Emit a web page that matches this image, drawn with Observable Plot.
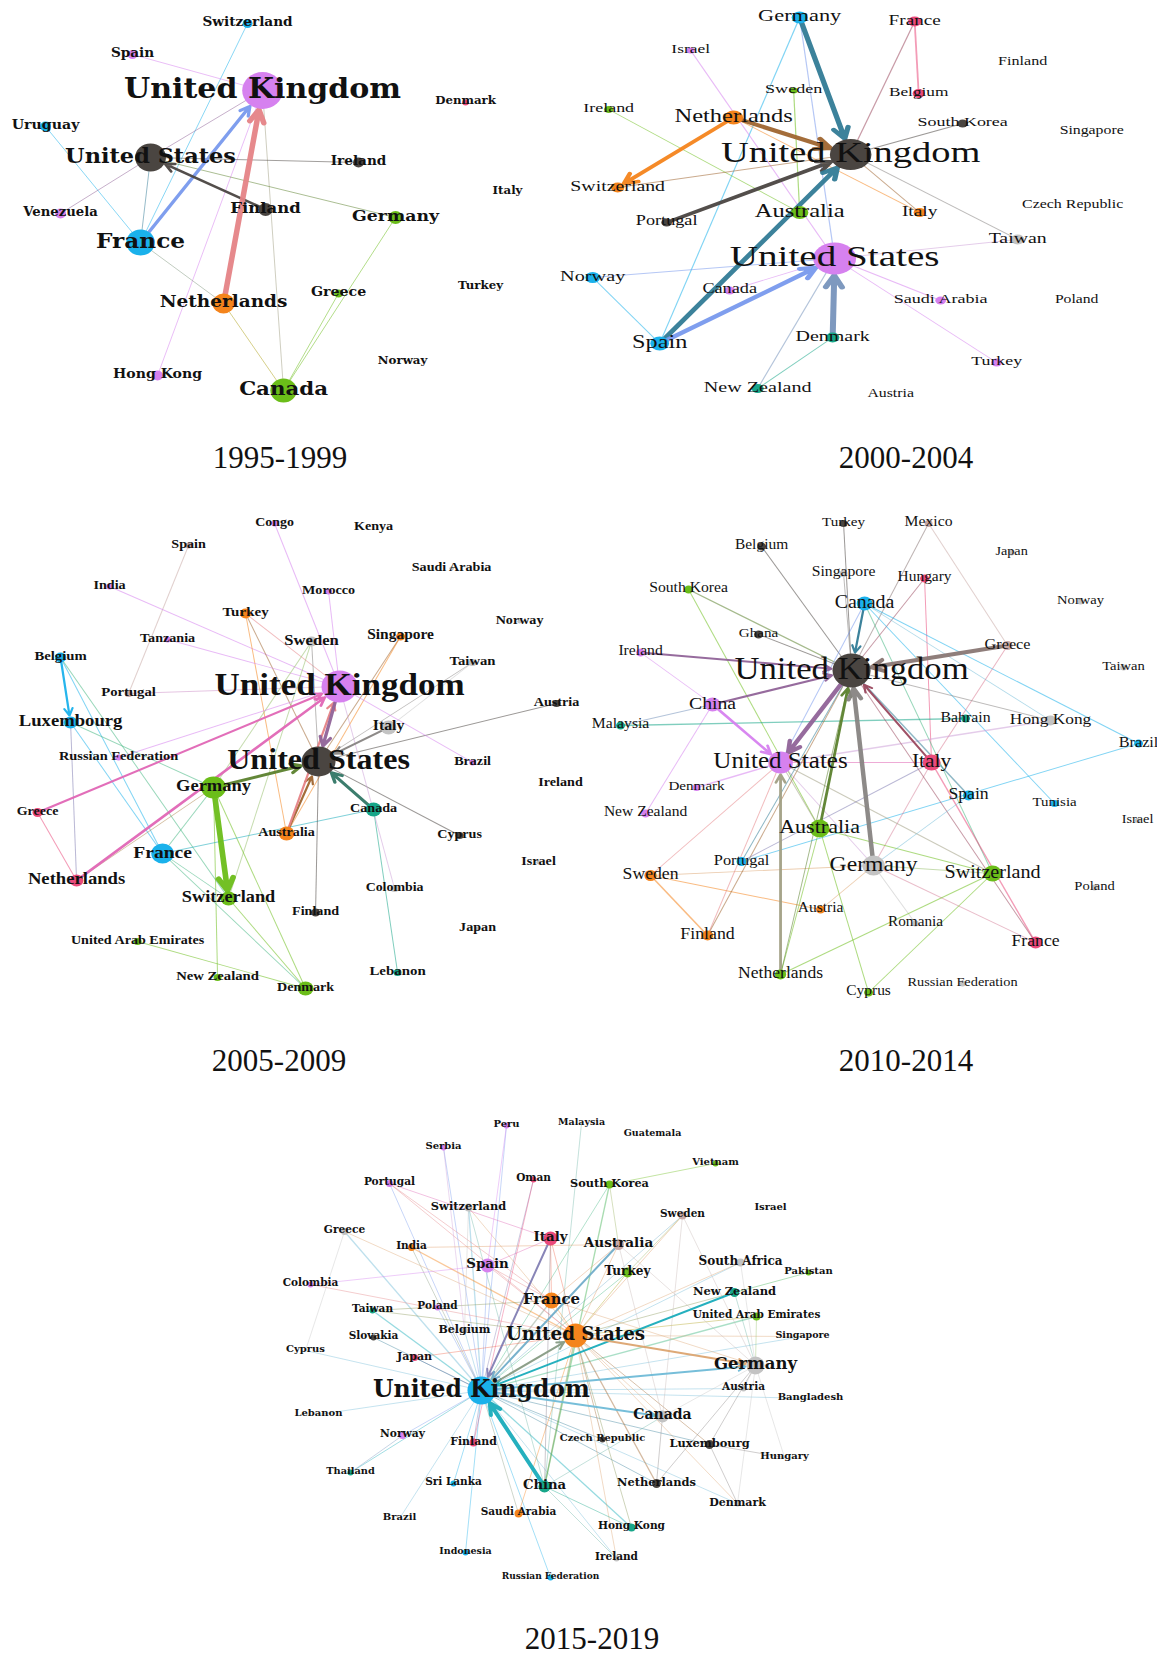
<!DOCTYPE html>
<html><head><meta charset="utf-8">
<script src="https://cdn.jsdelivr.net/npm/d3@7"></script>
<script src="https://cdn.jsdelivr.net/npm/@observablehq/plot@0.6"></script>
<style>
body{margin:0;background:#fff;}
#page{position:relative;width:1157px;height:1658px;overflow:hidden;background:#fff;}
.panel{position:absolute;transform-origin:0 0;}
.panel svg{overflow:visible;display:block;}
.cap{position:absolute;width:300px;margin-left:-150px;text-align:center;font-family:"Liberation Serif","Times New Roman",serif;font-size:31px;line-height:26px;color:#111;}
</style></head><body><div id="page"></div>
<script>
// community colours (index = community id)
const palette = ["#d681ef","#4a4541","#1ab1eb","#6bbd19","#f4841c","#ea4a7b","#17a689","#c3c3c3","#c8a9a6"];

// nodes: [country, layoutX, layoutY, nodeWeight, labelWeight, community]
const nodes1995 = [
["United Kingdom",262,90,18.5,27.3,0],["Switzerland",247,23,4.5,12.4,2],["Spain",132,54,4.5,12.4,0],
["Denmark",465,102,3,10.7,5],["Uruguay",45,126,5,12.9,2],["United States",150,157,14,20.4,1],
["Ireland",358,162,5,12.4,1],["Italy",507,192,0,10.7,7],["Venezuela",60,213,5,12,0],
["Finland",265,209,6.5,15,1],["Germany",395,217,6.5,15.7,3],["France",140,242,13,21.1,2],
["Turkey",480,287,0,10.7,7],["Greece",338,293,4,12.9,3],["Netherlands",223,303,10,16.8,4],
["Norway",402,362,0,10.7,7],["Hong Kong",157,375,5,12.8,0],["Canada",283,390,12,19.4,3]];
const edges1995 = [
["Switzerland","France",1],["Spain","United Kingdom",1],["Uruguay","France",1],["United States","United Kingdom",1],
["Venezuela","United States",1],["France","United Kingdom",3],["France","United States",1],["Finland","United States",2.5],
["Netherlands","United Kingdom",5],["Hong Kong","United Kingdom",1],["Canada","United Kingdom",1],["Ireland","United States",1],
["Germany","United States",1],["Germany","Canada",1],["Greece","Canada",1],["France","Netherlands",1],["Netherlands","Canada",1]];

const nodes2000 = [
["Germany",799,17,6,16.7,2],["France",914,21,5,14.3,5],["Israel",690,50,3,13,0],["Finland",1022,62,0,12,7],
["Sweden",793,90,3,13.5,3],["Belgium",918,93,4.5,12.9,5],["Ireland",608,109,3.5,13.4,3],["Netherlands",733,117,7,18.3,4],
["South Korea",962,123,4,13.4,1],["Singapore",1091,131,0,11.8,7],["United Kingdom",850,154,15.5,28.7,1],
["Switzerland",617,187,5,14.8,4],["Czech Republic",1072,205,0,11.9,7],["Australia",799,212,6.5,18.3,3],
["Italy",919,212,4.5,14.5,4],["Portugal",666,222,4,13.6,1],["Taiwan",1017,239,5,14.8,7],["United States",834,258,16,29.2,0],
["Norway",592,277,5.5,15.1,2],["Canada",729,290,4,13.6,0],["Saudi Arabia",940,300,4,13.5,0],["Poland",1076,300,0,11.7,7],
["Spain",659,343,7,18.1,2],["Denmark",832,337,5,14.9,6],["Turkey",996,362,4,13.3,0],["New Zealand",757,388,4.5,15,6],
["Austria",890,394,0,11.8,7]];
const edges2000 = [
["Germany","Spain",1],["Germany","United States",1],["France","Belgium",1.5],["France","United Kingdom",1],
["Israel","United States",1],["Sweden","Australia",1],["Ireland","Australia",1],["Netherlands","Italy",1],
["South Korea","United Kingdom",1],["Switzerland","United Kingdom",1],["Italy","United Kingdom",1],["Taiwan","United Kingdom",1],
["Taiwan","United States",1],["Norway","United States",1],["Norway","Spain",1],["Canada","United States",1],
["Saudi Arabia","United States",1],["Turkey","United States",1],["New Zealand","Denmark",1],["New Zealand","United States",1],
["Germany","United Kingdom",4],["Netherlands","United Kingdom",4],["Netherlands","Switzerland",3.5],
["Portugal","United Kingdom",3.5],["Spain","United Kingdom",4],["Spain","United States",4],["Denmark","United States",4.5]];

const nodes2005 = [
["Congo",274,523,3,12.3,0],["Kenya",373,527,0,12.5,7],["Spain",188,545,3,12.5,8],["Saudi Arabia",451,568,2,12.5,7],
["India",109,586,3,12.5,0],["Morocco",328,591,3,12.5,0],["Turkey",245,613,5,13.3,4],["Norway",519,621,2,12.5,7],
["Tanzania",167,639,3,12.5,0],["Sweden",311,641,5,14.7,7],["Singapore",400,636,4,13.7,4],["Belgium",60,657,5,13,2],
["Taiwan",472,662,3.5,13,7],["United Kingdom",339,686,16,31,0],["Portugal",128,693,3.5,13,8],["Austria",556,703,3.5,12.5,1],
["Luxembourg",70,722,6,16.5,2],["Italy",388,727,7,14,7],["Russian Federation",118,757,3,12.7,0],
["United States",318,761,15,28.4,1],["Brazil",472,762,3,12.5,0],["Germany",213,787,11,16.4,3],["Ireland",560,783,0,12.5,7],
["Greece",37,812,4.5,12.4,5],["Canada",373,809,7,12.5,6],["Australia",286,833,7,12.5,4],["Cyprus",459,835,3.5,12.5,1],
["France",162,853,10,17.3,2],["Israel",538,862,2,12.5,7],["Netherlands",76,880,6,16.5,5],["Switzerland",228,898,7,16.2,3],
["Colombia",394,888,3.5,12.3,7],["Finland",315,912,4,12.5,1],["Japan",477,928,2,12.5,7],["United Arab Emirates",137,941,3.5,12.5,3],
["Lebanon",397,972,3.5,13.2,6],["New Zealand",217,977,3.5,13,3],["Denmark",305,988,7,12.5,3]];
const edges2005 = [
["Congo","United Kingdom",1],["Spain","Portugal",1],["India","United Kingdom",1],["Morocco","United Kingdom",1],
["Turkey","United Kingdom",1],["Turkey","Australia",1],["Turkey","United States",1],["Tanzania","United Kingdom",1],
["Sweden","United States",1],["Sweden","Switzerland",1],["Sweden","Germany",1],["Singapore","United States",1],
["Singapore","Australia",1],["Belgium","France",1],["Belgium","Switzerland",1],["Taiwan","United States",1],["Taiwan","Italy",1],
["Portugal","United Kingdom",1],["Austria","United States",1],["Luxembourg","France",1],["Luxembourg","Netherlands",1],
["Luxembourg","Germany",1],["Russian Federation","United Kingdom",1],["Brazil","United Kingdom",1],["Germany","France",1],
["Germany","Denmark",1],["Germany","New Zealand",1],["Greece","Netherlands",1],["Netherlands","Germany",1],["Canada","France",1],
["Canada","Lebanon",1],["Cyprus","United States",1],["France","Denmark",1],["France","Switzerland",1],["Colombia","United Kingdom",1],
["Finland","United States",1],["Switzerland","Denmark",1],["United Arab Emirates","Denmark",1],
["Italy","United States",2],["Greece","United Kingdom",2],["Netherlands","United Kingdom",2.5],["Australia","United States",2],
["Australia","United Kingdom",2],["Belgium","Luxembourg",2],["United Kingdom","United States",3],["Germany","United States",3],
["Canada","United States",3],["Germany","Switzerland",5]];

const nodes2010 = [
["Turkey",843,523,3.5,13.5,1],["Mexico",928,523,3.5,14,8],["Belgium",761,546,4,13.8,1],["Japan",1011,552,3,12.7,7],
["Singapore",843,573,3.5,14,7],["Hungary",924,578,4,13.8,5],["South Korea",688,589,4,14,3],["Canada",864,603,7,17.8,2],
["Norway",1080,601,3,13,7],["Ghana",758,634,4,13.5,1],["Ireland",640,652,4,14,0],["Greece",1007,645,4.5,14.5,8],
["United Kingdom",851,670,17,31,1],["Taiwan",1123,667,3,13,7],["China",712,704,7,17.6,0],["Malaysia",620,725,4,14,6],
["Bahrain",965,718,4,14.1,6],["Hong Kong",1050,720,5,15.5,7],["Brazil",1138,743,4,14.5,2],["United States",780,762,11,22.4,0],
["Italy",931,762,8,19.1,5],["Denmark",696,787,3.5,13.5,0],["Spain",968,795,5,15.8,2],["Tunisia",1054,803,3.5,13.3,2],
["New Zealand",645,813,4,13.9,0],["Israel",1137,820,2.5,12.8,7],["Australia",819,828,9,19.7,3],["Portugal",741,861,4.5,14.6,2],
["Germany",873,865,10,21.1,7],["Sweden",650,875,5.5,15.8,4],["Switzerland",992,873,8,18,3],["Poland",1094,887,3,13,7],
["Austria",820,909,4,13.9,4],["Romania",915,923,3,13.6,7],["Finland",707,935,5,15.9,4],["France",1035,942,6,15.8,5],
["Netherlands",780,974,5,15.7,3],["Russian Federation",962,983,3,12.8,7],["Cyprus",868,992,4,13.8,3]];
const edges2010 = [
["Turkey","United Kingdom",1],["Mexico","United Kingdom",1],["Mexico","Greece",1],["Belgium","United Kingdom",1],
["Singapore","United Kingdom",1],["Hungary","United Kingdom",1],["Hungary","Italy",1],["South Korea","United Kingdom",1.5],
["South Korea","Australia",1],["Canada","Hong Kong",1],["Canada","Brazil",1],["Canada","Tunisia",1],["Canada","Switzerland",1],
["Canada","United States",1],["Ghana","United Kingdom",1],["Ireland","China",1],["Greece","Italy",1],["China","New Zealand",1],
["Malaysia","China",1],["Malaysia","Bahrain",1.5],["Hong Kong","United States",1.5],["Hong Kong","United Kingdom",1],
["Italy","United States",1],["Spain","United Kingdom",1.5],["Brazil","Portugal",1],["Denmark","United States",1.5],
["Germany","Switzerland",1],["Germany","Sweden",1],["Germany","Austria",1],["Germany","Romania",1],["Germany","France",1],
["Germany","United States",1],["Germany","Italy",1],["Sweden","Finland",1.5],["Sweden","Austria",1],["Sweden","United States",1],
["Finland","United States",1],["Finland","United Kingdom",1],["Netherlands","Australia",1],["Switzerland","Netherlands",1],
["Switzerland","Cyprus",1],["Switzerland","Australia",1],["Switzerland","United States",1],["France","Italy",1.5],
["France","United Kingdom",1],["Cyprus","Australia",1],["Portugal","United Kingdom",1],["Portugal","Italy",1],
["Australia","United States",1],["Spain","Germany",1],["Netherlands","United Kingdom",1],
["Ireland","United Kingdom",2],["China","United Kingdom",2],["Italy","United Kingdom",2],["Netherlands","United States",2.5],
["Canada","United Kingdom",2],["China","United States",2.5],["Australia","United Kingdom",2.5],["Greece","United Kingdom",4],
["United Kingdom","United States",4],["Germany","United Kingdom",4]];

const nodes2015 = [
["Peru",506,1125,3,10,0],["Malaysia",581,1123,0,9.5,7],["Guatemala",652,1134,0,9.5,7],["Serbia",443,1147,3,10,0],
["Vietnam",715,1163,3,10,3],["Portugal",389,1183,3.5,10.6,0],["Oman",533,1179,3,10.5,5],["South Korea",609,1184,4,11.3,3],
["Israel",770,1208,0,10,7],["Switzerland",468,1207,4,11.4,7],["Sweden",682,1215,4,10.5,8],["Greece",344,1231,3.5,10.6,7],
["Italy",550,1238,7,13.4,5],["Australia",618,1244,5.5,13.6,8],["India",411,1247,3.5,10.5,4],["Spain",487,1265,7,13.4,0],
["South Africa",740,1262,4,12,7],["Turkey",627,1272,5,12.1,3],["Pakistan",808,1272,3,10,3],["Colombia",310,1284,3,10.5,0],
["New Zealand",734,1292,4.5,11.5,6],["France",551,1300,8,14.9,4],["Taiwan",372,1310,3,10.5,6],["Poland",437,1307,3,10.5,0],
["United Arab Emirates",756,1316,4,10.5,3],["Belgium",464,1330,3,11,7],["United States",575,1335,12,18.3,4],
["Singapore",802,1336,0,9.5,7],["Slovakia",373,1337,3,10.5,1],["Cyprus",305,1350,0,10,7],["Japan",414,1357,3.5,11,5],
["Germany",755,1365,9,16.5,7],["United Kingdom",481,1390,14,23.5,2],["Austria",743,1388,3,10.5,7],["Bangladesh",810,1398,0,10,7],
["Lebanon",318,1414,0,10,7],["Canada",662,1416,6,14,7],["Norway",402,1435,3.5,10.7,0],["Finland",473,1442,4,10.9,5],
["Czech Republic",602,1439,3,9.9,1],["Luxembourg",709,1444,4.5,11.4,1],["Hungary",784,1457,0,10,7],["Thailand",350,1472,3,9.8,6],
["Sri Lanka",453,1483,3,10.5,2],["China",544,1486,6,13.2,6],["Netherlands",656,1483,4.5,11.4,1],["Denmark",737,1503,3,11,7],
["Brazil",399,1518,0,10,7],["Saudi Arabia",518,1513,4,10.5,4],["Hong Kong",631,1527,4,10.6,6],["Indonesia",465,1552,3,9.5,2],
["Ireland",616,1558,3,10.5,7],["Russian Federation",550,1577,3,9,2]];
const edges2015 = [
["Greece","United Kingdom",1.5],["United Arab Emirates","United Kingdom",1.5],["South Korea","United Kingdom",1],
["Turkey","United Kingdom",1],["France","United Kingdom",1.5],["South Africa","United Kingdom",1],["Austria","United Kingdom",1],
["Bangladesh","United Kingdom",1],["Luxembourg","United Kingdom",1],["Czech Republic","United Kingdom",1],
["Netherlands","United Kingdom",1],["Hong Kong","United Kingdom",1.5],["Ireland","United Kingdom",1],["Saudi Arabia","United Kingdom",1],
["Russian Federation","United Kingdom",1],["Indonesia","United Kingdom",1],["Sri Lanka","United Kingdom",1],["Brazil","United Kingdom",1],
["Thailand","United Kingdom",1],["Norway","United Kingdom",1],["Lebanon","United Kingdom",1],["Cyprus","United Kingdom",1],
["Taiwan","United Kingdom",1.5],["Japan","United Kingdom",1],["Slovakia","United Kingdom",1],["Belgium","United Kingdom",1],
["Poland","United Kingdom",1],["Switzerland","United Kingdom",1.5],["Portugal","United Kingdom",1],["Serbia","United Kingdom",1],
["Peru","United Kingdom",1],["Oman","United Kingdom",1],["Sweden","United Kingdom",1],["Finland","United Kingdom",1],
["India","United Kingdom",1],["Spain","United Kingdom",1],["Singapore","United Kingdom",1],["Denmark","United Kingdom",1],
["China","United States",1.5],["Canada","United States",1],["Netherlands","United States",1.5],["Luxembourg","United States",1],
["Hong Kong","United States",1],["Saudi Arabia","United States",1],["France","United States",1],["Italy","United States",1],
["Spain","United States",1],["India","United States",1.5],["Portugal","United States",1],["Switzerland","United States",1],
["Greece","United States",1],["Australia","United States",1],["Turkey","United States",1],["South Africa","United States",1],
["New Zealand","United States",1],["United Arab Emirates","United States",1],["Sweden","United States",1],["Ireland","United States",1],
["Denmark","United States",1],["Japan","United States",1],["Taiwan","United States",1],["Colombia","United States",1],
["Czech Republic","United States",1],["Singapore","United States",1],
["South Korea","China",1.5],["South Korea","Vietnam",1],["South Korea","Australia",1],["Pakistan","New Zealand",1],
["Germany","Austria",1],["Germany","Luxembourg",1],["Germany","Denmark",1],["Germany","Netherlands",1],["Germany","Hungary",1],
["Germany","South Africa",1],["Germany","Canada",1],["Germany","Australia",1],["Germany","Sweden",1],["Germany","France",1],
["Canada","China",1],["Canada","Netherlands",1],["Canada","Australia",1],["Malaysia","China",1],["Cyprus","Greece",1],
["Taiwan","France",1],["Denmark","Luxembourg",1],["Hungary","Luxembourg",1],["Ireland","China",1],["Hong Kong","China",1],
["Thailand","Norway",1],["Spain","France",1],["Spain","Italy",1],["Portugal","France",1],["Portugal","Italy",1],["Serbia","Belgium",1],
["Peru","Spain",1],["Oman","Finland",1],["Switzerland","Belgium",1],["Switzerland","China",1],["India","Australia",1],
["Italy","France",1],["Italy","China",1],["Australia","France",1],["Sweden","Canada",1],["Sweden","Turkey",1],["Colombia","Spain",1],
["New Zealand","Germany",1],["United Arab Emirates","Germany",1],
["Italy","United Kingdom",2],["Australia","United Kingdom",2],["New Zealand","United Kingdom",2],["United Kingdom","Germany",2],
["United Kingdom","Canada",2],["United States","Germany",2],["United Kingdom","United States",2],["China","United Kingdom",4]];

const periods = ["1995-1999","2000-2004","2005-2009","2010-2014","2015-2019"];

// panel layout (page boxes, horizontal stretch of the original figure, label font)
const panels = [
  {nodes:nodes1995, edges:edges1995, box:[0,0,540,420], stretch:1.1, font:"DejaVu Serif", weight:"bold", thin:0.55, cap:[280,445]},
  {nodes:nodes2000, edges:edges2000, box:[540,0,617,420], stretch:1.34, font:"Liberation Serif", weight:"normal", thin:0.55, cap:[906,445]},
  {nodes:nodes2005, edges:edges2005, box:[0,480,580,530], stretch:1.13, font:"Liberation Serif", weight:"bold", thin:0.55, cap:[279,1048]},
  {nodes:nodes2010, edges:edges2010, box:[580,480,577,530], stretch:1.12, font:"Liberation Serif", weight:"normal", thin:0.55, cap:[906,1048]},
  {nodes:nodes2015, edges:edges2015, box:[240,1095,640,500], stretch:1.0, font:"DejaVu Serif", weight:"bold", thin:0.45, cap:[592,1626]}
];

const page = document.getElementById("page");

panels.forEach((cfg, i) => {
  const [left, top, W, H] = cfg.box;
  const N = cfg.nodes.map(([name, x, y, size, label, group]) => ({name, x, y, size, label, group}));
  const byName = new Map(N.map(d => [d.name, d]));
  const col = d => palette[d.group];
  const E = cfg.edges.map(([s, t, w]) => {
    const a = byName.get(s), b = byName.get(t);
    return {a, b, w, c: d3.interpolateRgb(col(a), col(b))(0.5)};
  });
  const thin = E.filter(e => e.w < 2);
  const thick = E.filter(e => e.w >= 2);
  const marks = [
    Plot.link(thin, {
      x1: e => e.a.x, y1: e => e.a.y, x2: e => e.b.x, y2: e => e.b.y,
      stroke: e => e.c, strokeWidth: e => e.w * 0.9, strokeOpacity: cfg.thin
    }),
    ...thick.map(e => Plot.arrow([e], {
      x1: d => d.a.x, y1: d => d.a.y, x2: d => d.b.x, y2: d => d.b.y,
      stroke: e.c, strokeWidth: e.w, strokeOpacity: 0.95,
      headLength: (4 + 2 * e.w) * 1.5 / e.w, headAngle: 55,
      insetEnd: e.b.size + 1
    })),
    Plot.dot(N.filter(d => d.size > 0), {x: "x", y: "y", r: "size", fill: col, stroke: null}),
    Plot.text(N, {
      x: "x", y: "y", text: "name", fontSize: d => d.label,
      fontFamily: cfg.font, fontWeight: cfg.weight, fill: "#111", dy: -1.5
    })
  ];
  const svg = Plot.plot({
    width: W / cfg.stretch, height: H, margin: 0,
    x: {domain: [left, left + W], range: [0, W / cfg.stretch], axis: null},
    y: {domain: [top, top + H], range: [0, H], axis: null},
    r: {type: "identity"}, color: {type: "identity"},
    style: {background: "transparent", overflow: "visible"},
    marks
  });
  const div = document.createElement("div");
  div.className = "panel";
  div.style.left = left + "px";
  div.style.top = top + "px";
  div.style.transform = `scaleX(${cfg.stretch})`;
  div.appendChild(svg);
  page.appendChild(div);

  const cap = document.createElement("div");
  cap.className = "cap";
  cap.style.left = cfg.cap[0] + "px";
  cap.style.top = cfg.cap[1] + "px";
  cap.textContent = periods[i];
  page.appendChild(cap);
});
</script></body></html>
